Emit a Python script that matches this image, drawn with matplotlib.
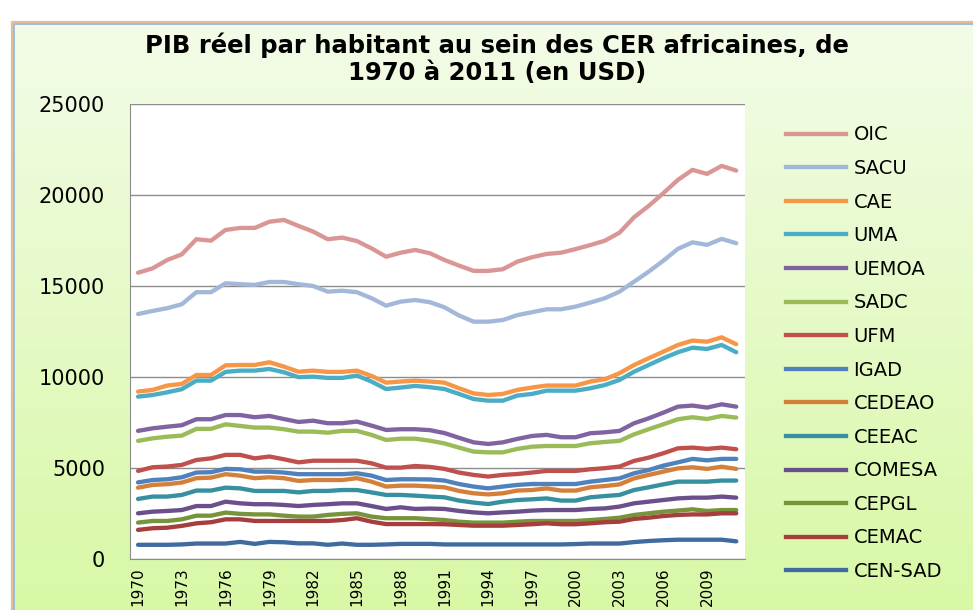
import numpy as np
from matplotlib import pyplot as plt
from matplotlib.lines import Line2D

years = list(range(1970, 2012))

oic = [15730, 15970, 16430, 16740, 17570, 17490, 18080, 18190, 18190, 18530,
       18630, 18300, 17990, 17570, 17660, 17470, 17070, 16610, 16830, 16980,
       16800, 16430, 16120, 15830, 15830, 15920, 16340, 16580, 16760, 16830,
       17030, 17250, 17490, 17930, 18780, 19400, 20100, 20830, 21380, 21160,
       21600, 21340]
sacu = [13460, 13630, 13780, 14000, 14660, 14660, 15150, 15100, 15060, 15220,
        15220, 15100, 15000, 14690, 14740, 14660, 14330, 13920, 14140, 14230,
        14110, 13830, 13380, 13040, 13040, 13130, 13400, 13560, 13720, 13720,
        13870, 14090, 14330, 14690, 15240, 15790, 16390, 17040, 17400, 17260,
        17590, 17350]
cae = [9200, 9290, 9530, 9620, 10110, 10110, 10640, 10660, 10660, 10810,
       10570, 10290, 10350, 10280, 10280, 10350, 10060, 9690, 9750, 9800,
       9750, 9690, 9380, 9100, 9010, 9070, 9290, 9420, 9530, 9530,
       9530, 9750, 9880, 10210, 10660, 11030, 11390, 11760, 12000, 11940,
       12180, 11800]
uma = [8920, 9010, 9160, 9330, 9800, 9800, 10280, 10350, 10350, 10440,
       10260, 9990, 10020, 9950, 9950, 10080, 9750, 9340, 9420, 9510,
       9440, 9340, 9070, 8790, 8700, 8700, 8980, 9070, 9250, 9250,
       9250, 9380, 9560, 9840, 10290, 10660, 11030, 11360, 11610, 11540,
       11760, 11360]
uemoa = [7040, 7180, 7270, 7350, 7680, 7680, 7910, 7910, 7790, 7860,
         7690, 7530, 7600, 7460, 7460, 7550, 7330, 7090, 7130, 7130,
         7080, 6920, 6660, 6410, 6320, 6410, 6600, 6760, 6820, 6690,
         6690, 6910, 6960, 7040, 7460, 7730, 8040, 8370, 8430, 8320,
         8500, 8370]
sadc = [6490, 6630, 6720, 6780, 7150, 7150, 7400, 7310, 7220, 7220,
        7130, 7000, 7000, 6940, 7040, 7040, 6820, 6540, 6610, 6610,
        6500, 6350, 6120, 5900, 5860, 5860, 6050, 6170, 6210, 6210,
        6210, 6360, 6430, 6490, 6850, 7130, 7400, 7680, 7790, 7690,
        7860, 7770]
ufm = [4840, 5040, 5080, 5170, 5440, 5530, 5720, 5720, 5530, 5630,
       5480, 5310, 5400, 5400, 5400, 5400, 5260, 5020, 5020, 5110,
       5060, 4950, 4750, 4620, 4530, 4620, 4670, 4750, 4840, 4840,
       4840, 4930, 4990, 5080, 5390, 5570, 5810, 6080, 6120, 6050,
       6120, 6030]
igad = [4210, 4340, 4380, 4490, 4750, 4770, 4950, 4930, 4800, 4800,
        4750, 4660, 4660, 4660, 4660, 4710, 4580, 4340, 4380, 4380,
        4370, 4310, 4120, 3980, 3880, 3980, 4070, 4120, 4120, 4120,
        4120, 4250, 4340, 4430, 4710, 4890, 5130, 5310, 5500, 5420,
        5500, 5500]
cedeao = [3920, 4070, 4110, 4200, 4440, 4470, 4660, 4580, 4440, 4490,
          4440, 4290, 4340, 4340, 4340, 4440, 4250, 3980, 4030, 4030,
          3990, 3940, 3740, 3610, 3550, 3610, 3760, 3790, 3880, 3760,
          3760, 3940, 4010, 4100, 4430, 4620, 4800, 4980, 5040, 4950,
          5070, 4950]
ceeac = [3300, 3430, 3430, 3520, 3760, 3760, 3920, 3880, 3740, 3740,
         3740, 3660, 3740, 3740, 3790, 3790, 3660, 3520, 3520, 3480,
         3430, 3390, 3210, 3100, 3020, 3150, 3240, 3280, 3330, 3210,
         3210, 3390, 3460, 3520, 3790, 3940, 4100, 4250, 4250, 4250,
         4310, 4310]
comesa = [2510, 2600, 2640, 2690, 2910, 2910, 3150, 3060, 3010, 3010,
          2970, 2910, 2970, 3010, 3060, 3060, 2910, 2750, 2840, 2750,
          2770, 2750, 2640, 2560, 2510, 2560, 2600, 2660, 2690, 2690,
          2690, 2750, 2780, 2880, 3060, 3150, 3240, 3330, 3370, 3370,
          3430, 3370]
cepgl = [2000, 2090, 2090, 2180, 2380, 2380, 2550, 2480, 2450, 2450,
         2380, 2330, 2330, 2420, 2480, 2510, 2330, 2240, 2240, 2240,
         2190, 2140, 2050, 2000, 2000, 2000, 2050, 2090, 2090, 2090,
         2090, 2140, 2200, 2270, 2420, 2510, 2600, 2660, 2730, 2640,
         2690, 2690]
cemac = [1600, 1690, 1720, 1820, 1960, 2020, 2180, 2180, 2090, 2090,
         2090, 2090, 2090, 2090, 2140, 2240, 2050, 1920, 1920, 1920,
         1920, 1910, 1870, 1830, 1830, 1830, 1870, 1910, 1960, 1910,
         1910, 1960, 2020, 2050, 2200, 2270, 2360, 2420, 2450, 2450,
         2510, 2510]
censad = [780, 780, 780, 800, 850, 850, 850, 940, 830, 940,
          920, 860, 860, 780, 850, 780, 780, 800, 830, 830,
          830, 800, 800, 800, 800, 800, 800, 800, 800, 800,
          820, 850, 850, 850, 930, 990, 1030, 1060, 1060, 1060,
          1060, 970]

names = ["OIC", "SACU", "CAE", "UMA", "UEMOA", "SADC", "UFM", "IGAD",
         "CEDEAO", "CEEAC", "COMESA", "CEPGL", "CEMAC", "CEN-SAD"]
series = [oic, sacu, cae, uma, uemoa, sadc, ufm, igad,
          cedeao, ceeac, comesa, cepgl, cemac, censad]
colors = ["#D99694", "#A3B8D9", "#F79646", "#4BACC6", "#8064A2", "#9BBB59",
          "#C0504D", "#4F81BD", "#D4803A", "#37909F", "#6A4F8C", "#77933C",
          "#A53E3C", "#3F6BA0"]

W, H = 973, 610
fig = plt.figure(figsize=(W / 100, H / 100), dpi=100)

# green gradient background inside the chart frame
bg = fig.add_axes([0, 0, 1, 1], zorder=-2)
bg.set_xlim(0, W)
bg.set_ylim(H, 0)
bg.axis("off")
grad = np.linspace(0, 1, 256).reshape(-1, 1)
top = np.array([243, 252, 232]) / 255
bot = np.array([216, 248, 166]) / 255
img = top + (bot - top) * grad[..., None]
bg.imshow(img, extent=[12, W, H, 22], aspect="auto")
bg.plot([12, 12, W], [H, 22, 22], color="#E3BE8C", lw=1.6, solid_capstyle="butt")
bg.plot([14, 14, W], [H, 24, 24], color="#8DB3E2", lw=1.2, solid_capstyle="butt")

ax = fig.add_axes([130 / W, 1 - 559 / H, 615 / W, 455 / H])
ax.set_facecolor("white")

for vals, c in zip(series, colors):
    ax.plot(years, vals, color=c, lw=3.1, solid_capstyle="round")

ax.set_xlim(1969.45, 2011.6)
ax.set_ylim(0, 25000)
ax.set_yticks(range(0, 25001, 5000))
ax.set_xticks(years[::3])
ax.grid(axis="y", color="#8C8C8C", lw=1)
ax.set_axisbelow(True)
ax.tick_params(axis="y", length=0, pad=18, labelsize=15)
ax.tick_params(axis="x", length=0, pad=6, labelsize=11, labelrotation=90)
for s in ["top", "right"]:
    ax.spines[s].set_visible(False)
for s in ["left", "bottom"]:
    ax.spines[s].set_color("#8C8C8C")

fig.text(497 / W, 1 - 45 / H, "PIB réel par habitant au sein des CER africaines, de",
         ha="center", va="center", fontsize=17.5, fontweight="bold")
fig.text(497 / W, 1 - 73 / H, "1970 à 2011 (en USD)",
         ha="center", va="center", fontsize=17.5, fontweight="bold")

handles = [Line2D([], [], color=c, lw=3.1) for c in colors]
fig.legend(handles, names, loc="upper left", bbox_to_anchor=(768 / W, 1 - 108 / H),
           frameon=False, fontsize=14, handlelength=3.1, handletextpad=0.4,
           labelspacing=0.75)

plt.savefig("out.png", dpi=100)
